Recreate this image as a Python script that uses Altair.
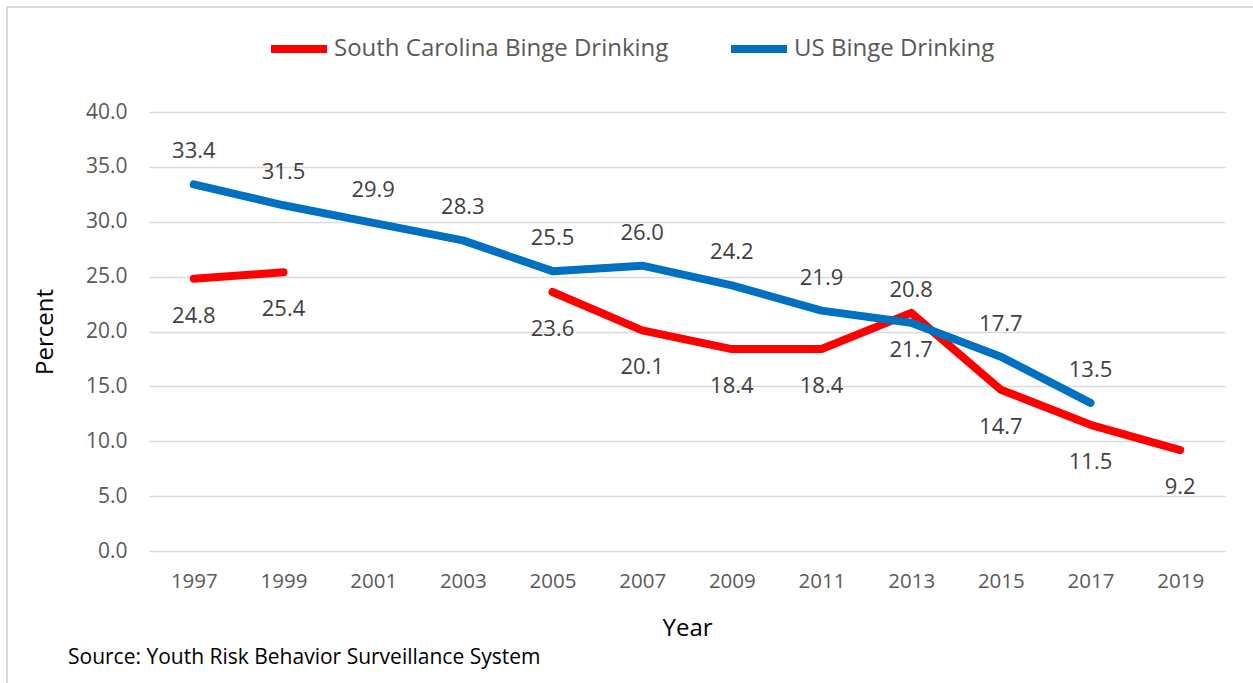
import altair as alt
import pandas as pd

years = ["1997", "1999", "2001", "2003", "2005", "2007", "2009", "2011", "2013", "2015", "2017", "2019"]
sc_values = [24.8, 25.4, None, None, 23.6, 20.1, 18.4, 18.4, 21.7, 14.7, 11.5, 9.2]
us_values = [33.4, 31.5, 29.9, 28.3, 25.5, 26.0, 24.2, 21.9, 20.8, 17.7, 13.5, None]
series_names = ["South Carolina Binge Drinking", "US Binge Drinking"]
series_colors = ["#FF0000", "#0070C0"]
y_ticks = [0, 5, 10, 15, 20, 25, 30, 35, 40]
source_text = "Source: Youth Risk Behavior Surveillance System"

rows = []
for y, s, u in zip(years, sc_values, us_values):
    rows.append({"Year": y, "Series": series_names[0], "Value": s})
    rows.append({"Year": y, "Series": series_names[1], "Value": u})
df = pd.DataFrame(rows)

FONT = "Open Sans"
W, H = 1076, 439
PL, PT = 149, 112

x_enc = alt.X("Year:O", sort=years,
              scale=alt.Scale(type="point", padding=0.5),
              axis=alt.Axis(title="Year", labelAngle=0, ticks=False, domain=False,
                            labelFontSize=20.5, labelColor="#595959", labelPadding=20,
                            titleFontSize=24, titleColor="#000000", titleFontWeight="normal",
                            titlePadding=25, titleFont=FONT, labelFont=FONT))
y_enc = alt.Y("Value:Q",
              scale=alt.Scale(domain=[0, 40], nice=False, zero=True),
              axis=alt.Axis(values=y_ticks, format=".1f", title="Percent",
                            grid=True, gridColor="#d9d9d9", gridWidth=1.5,
                            domain=False, ticks=False,
                            labelFontSize=21, labelColor="#595959", labelPadding=22,
                            labelFont=FONT, titleFont=FONT,
                            titleFontSize=24, titleColor="#000000", titleFontWeight="normal",
                            titleX=45 - PL, titleY=H / 2, titleAngle=-90,
                            titleAlign="center", titleBaseline="middle"))
color_enc = alt.Color("Series:N",
                      scale=alt.Scale(domain=series_names, range=series_colors),
                      legend=alt.Legend(title=None, orient="none", direction="horizontal",
                                        legendX=267 - PL, legendY=17 - PT,
                                        symbolType="stroke", symbolStrokeWidth=8,
                                        symbolSize=3136, labelFontSize=24,
                                        labelColor="#595959", labelFont=FONT,
                                        labelOffset=3, columnPadding=46, labelLimit=0))

base = alt.Chart(df)

lines = base.mark_line(strokeWidth=8, strokeCap="round", strokeJoin="round").encode(
    x=x_enc, y=y_enc, color=color_enc, detail="Series:N"
)

us_labels = base.transform_filter(alt.datum.Series == series_names[1]).mark_text(
    dy=-33, fontSize=22, color="#404040", font=FONT
).encode(x=alt.X("Year:O", sort=years), y="Value:Q", text=alt.Text("Value:Q", format=".1f"))

sc_labels = base.transform_filter(alt.datum.Series == series_names[0]).mark_text(
    dy=37, fontSize=22, color="#404040", font=FONT
).encode(x=alt.X("Year:O", sort=years), y="Value:Q", text=alt.Text("Value:Q", format=".1f"))

src = alt.Chart(pd.DataFrame({"t": [source_text]})).mark_text(
    align="left", baseline="middle", fontSize=21, color="#000000", font=FONT
).encode(x=alt.value(68 - PL), y=alt.value(658 - PT), text="t:N")

border_left = alt.Chart(pd.DataFrame({"a": [0]})).mark_rule(
    color="#d9d9d9", strokeWidth=2, clip=False
).encode(x=alt.value(7 - PL), y=alt.value(7 - PT), y2=alt.value(683 - PT))
border_top = alt.Chart(pd.DataFrame({"a": [0]})).mark_rule(
    color="#d9d9d9", strokeWidth=2, clip=False
).encode(x=alt.value(7 - PL), x2=alt.value(1253 - PL), y=alt.value(7 - PT))

chart = alt.layer(lines, us_labels, sc_labels, src, border_left, border_top).properties(
    width=W, height=H,
    autosize=alt.AutoSizeParams(type="none"),
    padding={"left": PL, "top": PT, "right": 1253 - PL - W, "bottom": 683 - PT - H},
    background="white",
).configure_view(stroke=None)

chart.save("out.html", embed_options={"renderer": "svg", "actions": False})
